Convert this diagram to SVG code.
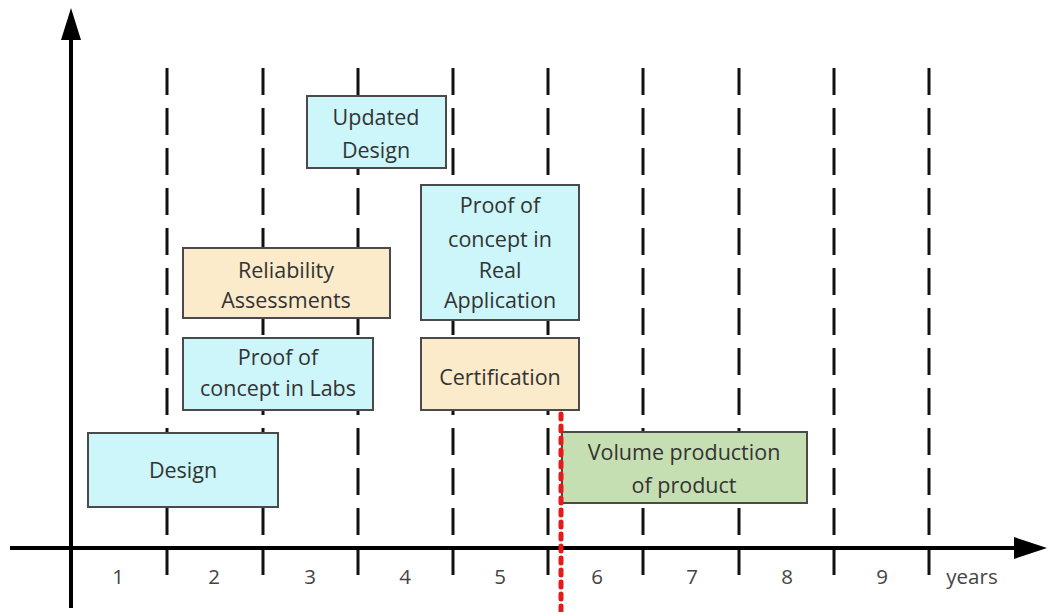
<svg xmlns="http://www.w3.org/2000/svg" width="1058" height="612" viewBox="0 0 1058 612">
<style>
.grid{stroke:#111;stroke-width:3;stroke-dasharray:27 13;fill:none}
.axis{stroke:#000;stroke-width:4;fill:none}
.box{stroke:#4a4a4a;stroke-width:2}
.cyan{fill:#ccf6fa}
.tan{fill:#fcebca}
.green{fill:#c6dfb2}
.t{font-family:"Open Sans","Liberation Sans",sans-serif;font-size:21.5px;fill:#333;text-anchor:middle}
.ax{font-family:"Open Sans","Liberation Sans",sans-serif;font-size:20.5px;fill:#444;text-anchor:middle}
</style>
<rect width="1058" height="612" fill="#fff"/>
<g id="gridlines">
<line class="grid" x1="167" y1="68" x2="167" y2="585"/>
<line class="grid" x1="263" y1="68" x2="263" y2="585"/>
<line class="grid" x1="358" y1="68" x2="358" y2="585"/>
<line class="grid" x1="453" y1="68" x2="453" y2="585"/>
<line class="grid" x1="548" y1="68" x2="548" y2="585"/>
<line class="grid" x1="643" y1="68" x2="643" y2="585"/>
<line class="grid" x1="739" y1="68" x2="739" y2="585"/>
<line class="grid" x1="834" y1="68" x2="834" y2="585"/>
<line class="grid" x1="929" y1="68" x2="929" y2="585"/>
</g>
<g id="axes">
<line class="axis" x1="71" y1="36" x2="71" y2="608"/>
<polygon points="71,8 61,40 81,40" fill="#000"/>
<line class="axis" x1="10" y1="548" x2="1018" y2="548"/>
<polygon points="1047,548 1014,537 1014,559" fill="#000"/>
</g>
<g id="node-design">
<rect class="box cyan" x="88" y="433" width="190" height="74"/>
<text class="t" x="183" y="478">Design</text>
</g>
<g id="node-poc-labs">
<rect class="box cyan" x="183" y="338" width="190" height="72"/>
<text class="t" x="278" y="365">Proof of</text>
<text class="t" x="278" y="396">concept in Labs</text>
</g>
<g id="node-reliability">
<rect class="box tan" x="183" y="248" width="207" height="70"/>
<text class="t" x="286" y="278">Reliability</text>
<text class="t" x="286" y="308">Assessments</text>
</g>
<g id="node-updated-design">
<rect class="box cyan" x="307" y="96" width="139" height="72"/>
<text class="t" x="376" y="125">Updated</text>
<text class="t" x="376" y="158">Design</text>
</g>
<g id="node-poc-real">
<rect class="box cyan" x="421" y="185" width="158" height="135"/>
<text class="t" x="500" y="213">Proof of</text>
<text class="t" x="500" y="247">concept in</text>
<text class="t" x="500" y="278">Real</text>
<text class="t" x="500" y="308">Application</text>
</g>
<g id="node-certification">
<rect class="box tan" x="421" y="338" width="158" height="72"/>
<text class="t" x="500" y="385">Certification</text>
</g>
<g id="node-volume">
<rect class="box green" x="562" y="432" width="245" height="71"/>
<text class="t" x="684" y="460">Volume production</text>
<text class="t" x="684" y="493">of product</text>
</g>
<g id="marker-line">
<line x1="561" y1="414" x2="561" y2="612" stroke="#e21b1b" stroke-width="5" stroke-dasharray="5 7" stroke-linecap="round"/>
</g>
<g id="axis-labels">
<text class="ax" x="118" y="584">1</text>
<text class="ax" x="214" y="584">2</text>
<text class="ax" x="310" y="584">3</text>
<text class="ax" x="405" y="584">4</text>
<text class="ax" x="500" y="584">5</text>
<text class="ax" x="597" y="584">6</text>
<text class="ax" x="692" y="584">7</text>
<text class="ax" x="787" y="584">8</text>
<text class="ax" x="882" y="584">9</text>
<text class="ax" x="972" y="584">years</text>
</g>
</svg>
